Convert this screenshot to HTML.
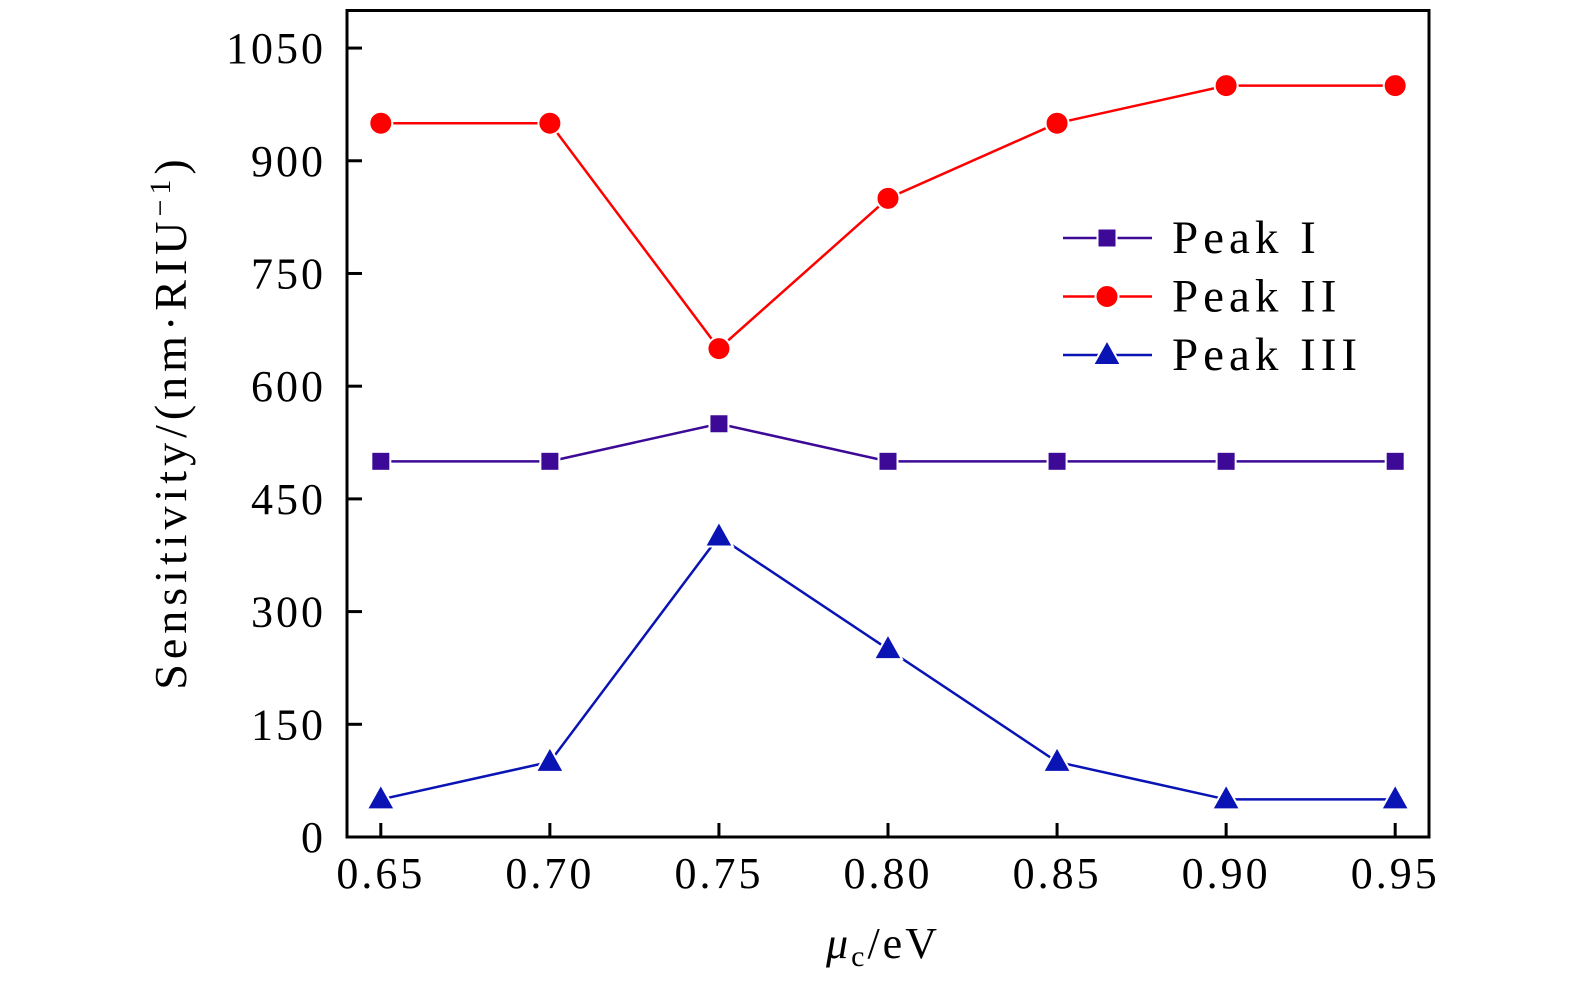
<!DOCTYPE html>
<html><head><meta charset="utf-8"><style>
html,body{margin:0;padding:0;background:#fff;}
svg{display:block;font-family:"Liberation Serif",serif;}
</style></head><body>
<svg id="chart" width="1575" height="984" viewBox="0 0 1575 984" xmlns="http://www.w3.org/2000/svg">
<g id="plot"></g>
</svg>
<script>
const categories=[0.65,0.70,0.75,0.80,0.85,0.90,0.95];
const xTickLabels=["0.65","0.70","0.75","0.80","0.85","0.90","0.95"];
const yTicks=[0,150,300,450,600,750,900,1050];
const peak1=[500,500,550,500,500,500,500];
const peak2=[950,950,650,850,950,1000,1000];
const peak3=[50,100,400,250,100,50,50];
const seriesNames=["Peak I","Peak II","Peak III"];

const NS="http://www.w3.org/2000/svg";
const L=347,R=1429,T=10.5,B=837;
const xMin=0.64,xMax=0.96,yMin=0,yMax=1100;
function xs(v){return L+(v-xMin)/(xMax-xMin)*(R-L);}
function ys(v){return B-(v-yMin)/(yMax-yMin)*(B-T);}
const g=document.getElementById('plot');
function mk(tag,attrs,parent){const e=document.createElementNS(NS,tag);for(const k in attrs)e.setAttribute(k,attrs[k]);(parent||g).appendChild(e);return e;}

const frame=mk('rect',{x:L,y:T,width:R-L,height:B-T,fill:'none',stroke:'#000','stroke-width':3});



categories.forEach((c,i)=>{
  const t=mk('line',{x1:xs(c),x2:xs(c),y1:B,y2:B-14,stroke:'#000','stroke-width':3});
  
  
  const lb=mk('text',{x:xs(c),y:888,'text-anchor':'middle','font-size':44,'letter-spacing':3});
  lb.textContent=xTickLabels[i];
  
  
});
yTicks.forEach(v=>{
  const t=mk('line',{x1:L,x2:L+15,y1:ys(v),y2:ys(v),stroke:'#000','stroke-width':3});
  
  
  const lb=mk('text',{x:326,y:ys(v)+15,'text-anchor':'end','font-size':44,'letter-spacing':3});
  lb.textContent=String(v);
  
  
});

const yt=mk('text',{x:0,y:0,'text-anchor':'middle','font-size':46,'letter-spacing':5,transform:'translate(186,422) rotate(-90)'});
yt.innerHTML='Sensitivity/(nm·RIU<tspan font-size="30" dy="-16">−1</tspan><tspan dy="16">)</tspan>';


const xt=mk('text',{x:883,y:958,'text-anchor':'middle','font-size':44,'letter-spacing':3});
xt.innerHTML='<tspan font-style="italic">μ</tspan><tspan font-size="30" dy="8">c</tspan><tspan dy="-8">/eV</tspan>';



const colors=['#3c0a96','#ff0000','#0a14b4'];
const shapes=['square','circle','triangle'];
function marker(shape,cx,cy,color,parent){
  let e;
  if(shape==='square') e=mk('rect',{x:cx-9.5,y:cy-9.5,width:19,height:19,fill:color},parent);
  else if(shape==='circle') e=mk('circle',{cx:cx,cy:cy,r:11.5,fill:color},parent);
  else e=mk('polygon',{points:`${cx},${cy-15} ${cx-14},${cy+10} ${cx+14},${cy+10}`,fill:color},parent);
  e.setAttribute('stroke','#fff');e.setAttribute('stroke-width','2');
  return e;
}
[peak1,peak2,peak3].forEach((data,si)=>{
  const sg=mk('g',{});
  
  
  const pts=data.map((v,i)=>xs(categories[i])+','+ys(v)).join(' ');
  const pl=mk('polyline',{points:pts,fill:'none',stroke:colors[si],'stroke-width':2.5},sg);
  
  
  data.forEach((v,i)=>{
    const m=marker(shapes[si],xs(categories[i]),ys(v),colors[si],sg);
    
    
  });
});

const lg=mk('g',{});


seriesNames.forEach((n,i)=>{
  const y=238+i*58.5;
  const en=mk('g',{},lg);
  
  
  mk('line',{x1:1063,x2:1152,y1:y,y2:y,stroke:colors[i],'stroke-width':2.5},en);
  marker(shapes[i],1107,y,colors[i],en);
  const t=mk('text',{x:1172,y:y+15,'font-size':47,'letter-spacing':5},en);
  t.textContent=n;
});
</script>
</body></html>
